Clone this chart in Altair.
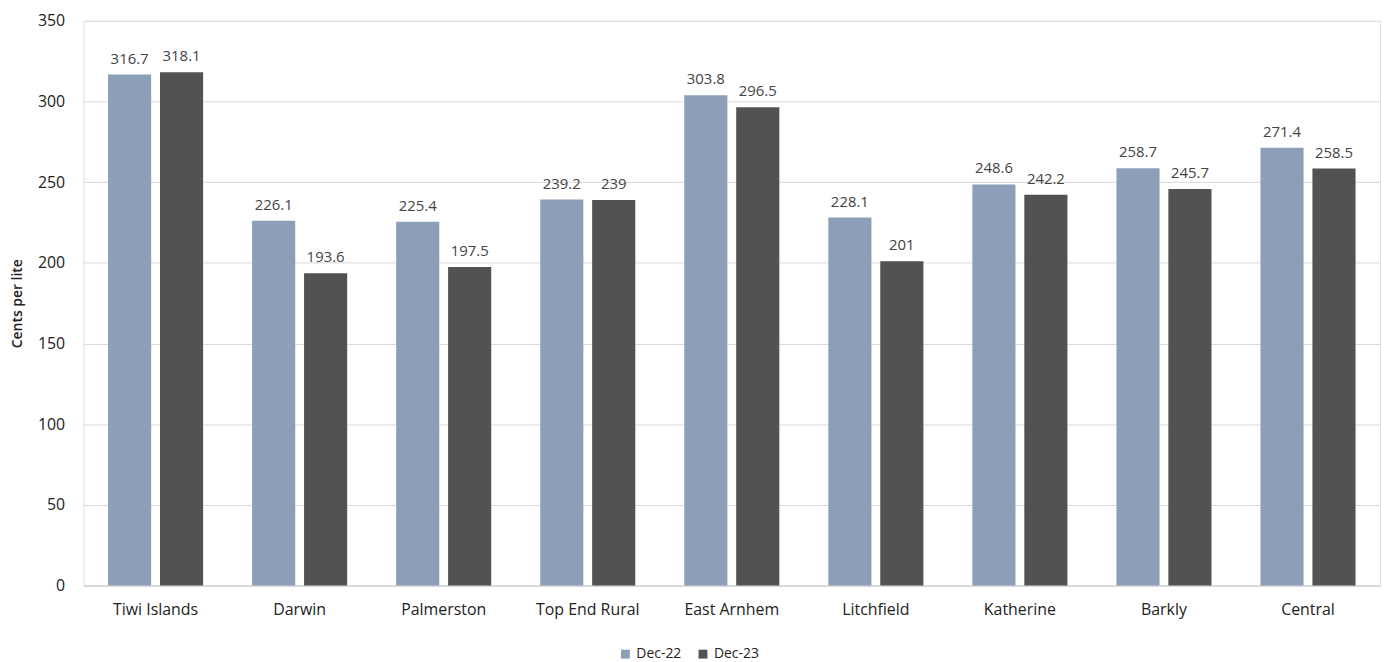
import altair as alt
import pandas as pd

regions = ["Tiwi Islands", "Darwin", "Palmerston", "Top End Rural", "East Arnhem",
           "Litchfield", "Katherine", "Barkly", "Central"]
dec22 = [316.7, 226.1, 225.4, 239.2, 303.8, 228.1, 248.6, 258.7, 271.4]
dec23 = [318.1, 193.6, 197.5, 239.0, 296.5, 201.0, 242.2, 245.7, 258.5]
series = ["Dec-22", "Dec-23"]
colors = ["#8C9FB9", "#525252"]

rows = []
for r, a, b in zip(regions, dec22, dec23):
    rows.append({"region": r, "series": series[0], "value": a})
    rows.append({"region": r, "series": series[1], "value": b})
df = pd.DataFrame(rows)

FONT = "Open Sans"

x = alt.X("region:N", sort=regions, title=None,
          scale=alt.Scale(paddingInner=0.34, paddingOuter=0.17),
          axis=alt.Axis(labelAngle=0, labelFontSize=16, labelColor="#222222", labelFont=FONT,
                        ticks=False, domainColor="#d0d0d0", labelPadding=16, grid=False))
xo = alt.XOffset("series:N", sort=series,
                 scale=alt.Scale(paddingInner=0.17, paddingOuter=0))

base = alt.Chart(df)

bars = base.mark_bar().encode(
    x=x, xOffset=xo,
    y=alt.Y("value:Q", title="Cents per lite",
            scale=alt.Scale(domain=[0, 350], nice=False),
            axis=alt.Axis(values=list(range(0, 351, 50)), labelFontSize=16, labelColor="#222222",
                          labelFont=FONT, ticks=False, domain=False, labelPadding=19,
                          gridColor="#d9d9d9", titleFontSize=14, titleFont=FONT,
                          titleFontWeight=600, titleColor="#222222", titleX=-66, titleY=284,
                          titleBaseline="middle", titleAlign="center", titleAngle=270)),
    color=alt.Color("series:N", sort=series, title=None,
                    scale=alt.Scale(domain=series, range=colors),
                    legend=alt.Legend(orient="none", legendX=538, legendY=630,
                                      direction="horizontal", symbolType="square",
                                      symbolSize=80, labelFontSize=14, labelFont=FONT,
                                      labelColor="#222222", columnPadding=14,
                                      symbolStrokeWidth=0)),
)

labels = base.mark_text(baseline="bottom", dy=-8, fontSize=15, font=FONT, color="#444444").encode(
    x=x, xOffset=xo,
    y=alt.Y("value:Q"),
    text=alt.Text("value:Q", format=".4~g"),
)

chart = (bars + labels).properties(
    width=1304, height=568,
    autosize=alt.AutoSizeParams(type="none"),
    padding={"left": 76, "top": 11, "right": 6, "bottom": 75},
).configure_view(stroke=None).configure(background="white")

chart.save("out.html", embed_options={"renderer": "svg", "actions": False})
